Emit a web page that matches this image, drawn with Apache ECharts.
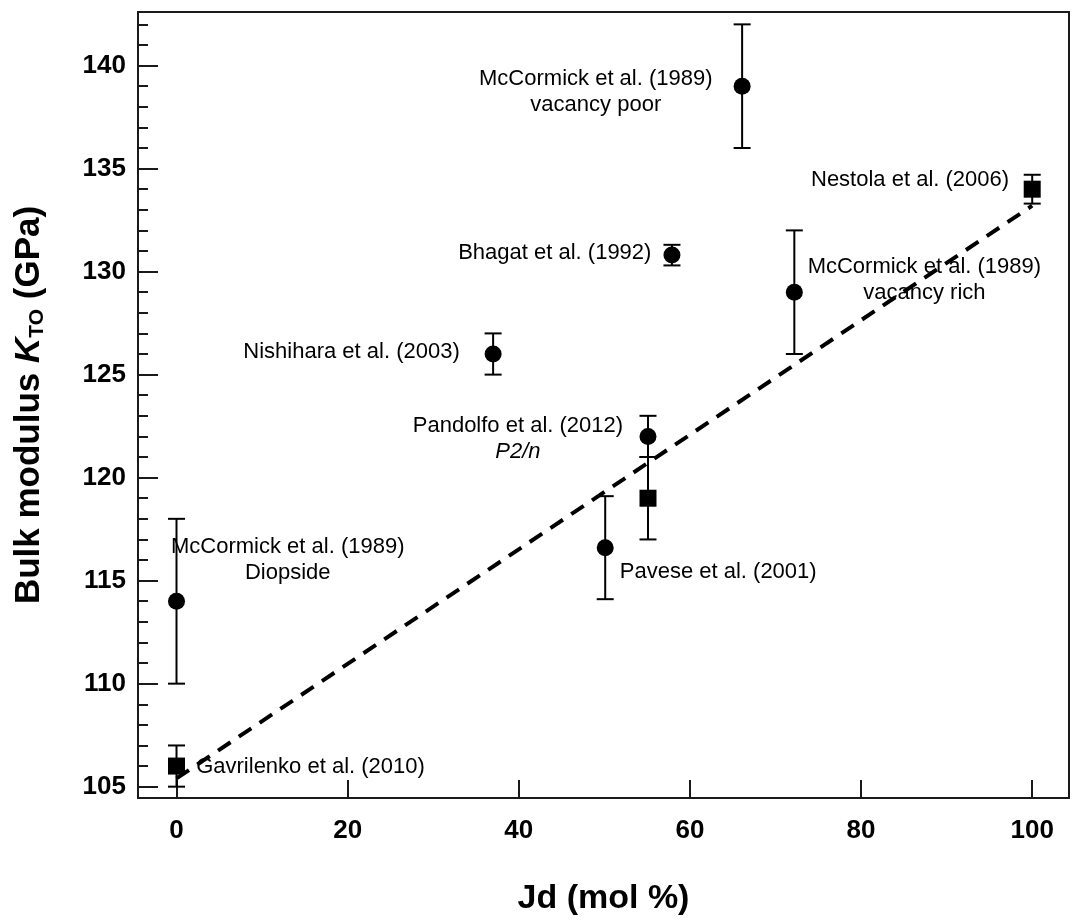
<!DOCTYPE html>
<html>
<head>
<meta charset="utf-8">
<title>Bulk modulus vs Jd</title>
<script src="https://cdn.jsdelivr.net/npm/echarts@6/dist/echarts.min.js"></script>
<style>
html, body { margin: 0; padding: 0; background: #fff; }
#main { width: 1072px; height: 922px; }
</style>
</head>
<body>
<div id="main"></div>
<script>
// filled circles: x, K, lower / upper error
var circleX = [0, 37, 50.1, 55.1, 57.9, 66.1, 72.2];
var circleY = [114, 126, 116.6, 122, 130.8, 139, 129];
var circleLo = [110, 125, 114.1, 121, 130.3, 136, 126];
var circleHi = [118, 127, 119.1, 123, 131.3, 142, 132];

// filled squares
var squareX = [0, 55.1, 100];
var squareY = [106, 119, 134];
var squareLo = [105, 117, 133.3];
var squareHi = [107, 121, 134.7];

// dashed fit line
var fitX = [0, 100];
var fitY = [105.4, 133.2];

// ticks
var xTicks = [0, 20, 40, 60, 80, 100];
var yTicks = [105, 110, 115, 120, 125, 130, 135, 140];
var yMinorTicks = [106, 107, 108, 109, 111, 112, 113, 114, 116, 117, 118, 119,
    121, 122, 123, 124, 126, 127, 128, 129, 131, 132, 133, 134, 136, 137, 138, 139, 141, 142];

// annotations (anchor in data units)
var noteText = [
    'McCormick et al. (1989)\nvacancy poor',
    'Nestola et al. (2006)',
    'Bhagat et al. (1992)',
    'McCormick et al. (1989)\nvacancy rich',
    'Nishihara et al. (2003)',
    'Pandolfo et al. (2012)\n{i|P2/n}',
    'Pavese et al. (2001)',
    'McCormick et al. (1989)\nDiopside',
    'Gavrilenko et al. (2010)'
];
var noteX = [49.0, 97.3, 55.5, 87.4, 33.1, 39.9, 51.8, 13.0, 2.3];
var noteY = [138.7, 134.45, 130.9, 129.6, 126.1, 121.9, 115.4, 116.0, 105.97];
var noteAlign = ['center', 'right', 'right', 'center', 'right', 'center', 'left', 'center', 'left'];

var FONT = '"Liberation Sans", Arial, Helvetica, sans-serif';
var INK = '#000';

function pairs(xs, ys) {
    return xs.map(function (x, i) { return [x, ys[i]]; });
}

var bars = [];
circleX.forEach(function (x, i) { bars.push([x, circleY[i], circleLo[i], circleHi[i]]); });
squareX.forEach(function (x, i) { bars.push([x, squareY[i], squareLo[i], squareHi[i]]); });

var notes = noteX.map(function (x, i) { return [x, noteY[i], i]; });

function renderBar(params, api) {
    var x = api.value(0);
    var top = api.coord([x, api.value(3)]);
    var bot = api.coord([x, api.value(2)]);
    var w = 8.5;
    var st = { stroke: INK, lineWidth: 2 };
    return {
        type: 'group',
        children: [
            { type: 'line', shape: { x1: top[0], y1: top[1], x2: bot[0], y2: bot[1] }, style: st },
            { type: 'line', shape: { x1: top[0] - w, y1: top[1], x2: top[0] + w, y2: top[1] }, style: st },
            { type: 'line', shape: { x1: bot[0] - w, y1: bot[1], x2: bot[0] + w, y2: bot[1] }, style: st }
        ]
    };
}

function renderNote(params, api) {
    var i = api.value(2);
    var p = api.coord([api.value(0), api.value(1)]);
    return {
        type: 'text',
        x: p[0],
        y: p[1],
        style: {
            text: noteText[i],
            align: noteAlign[i],
            verticalAlign: 'middle',
            fontSize: 22,
            fontFamily: FONT,
            lineHeight: 26,
            fill: INK,
            rich: {
                i: { fontSize: 22, fontFamily: FONT, fontStyle: 'italic', lineHeight: 26, fill: INK }
            }
        }
    };
}

var chart = echarts.init(document.getElementById('main'));

var option = {
    animation: false,
    backgroundColor: '#fff',
    grid: {
        left: 138,
        right: 3,
        top: 12,
        bottom: 124,
        show: true,
        borderColor: '#1a1a1a',
        borderWidth: 2,
        outerBoundsMode: 'none'
    },
    xAxis: {
        type: 'value',
        min: -4.5,
        max: 104.3,
        axisLine: { show: false, onZero: false },
        axisTick: { show: true, inside: true, length: 18, customValues: xTicks, lineStyle: { color: '#1a1a1a', width: 2 } },
        axisLabel: { customValues: xTicks, margin: 20, fontSize: 26, fontWeight: 'bold', color: INK, fontFamily: FONT },
        splitLine: { show: false },
        name: 'Jd (mol %)',
        nameLocation: 'middle',
        nameGap: 84,
        nameTextStyle: { fontSize: 34, fontWeight: 'bold', color: INK, fontFamily: FONT }
    },
    yAxis: [{
        type: 'value',
        min: 104.45,
        max: 142.6,
        position: 'left',
        axisLine: { show: false, onZero: false },
        axisTick: { show: true, inside: true, length: 20, customValues: yTicks, lineStyle: { color: '#1a1a1a', width: 2 } },
        axisLabel: { customValues: yTicks, margin: 12, fontSize: 26, fontWeight: 'bold', color: INK, fontFamily: FONT },
        splitLine: { show: false },
        name: '{b|Bulk modulus }{k|K}{s|TO}{b| (GPa)}',
        nameLocation: 'middle',
        nameGap: 90,
        nameTextStyle: {
            color: INK,
            rich: {
                b: { fontSize: 35, fontWeight: 'bold', fontFamily: FONT, lineHeight: 37, verticalAlign: 'middle', color: INK },
                k: { fontSize: 35, fontWeight: 'bold', fontStyle: 'italic', fontFamily: FONT, lineHeight: 37, verticalAlign: 'middle', color: INK },
                s: { fontSize: 21, fontWeight: 'bold', fontFamily: FONT, lineHeight: 21, verticalAlign: 'bottom', color: INK }
            }
        }
    }, {
        type: 'value',
        min: 104.45,
        max: 142.6,
        position: 'left',
        axisLine: { show: false, onZero: false },
        axisTick: { show: true, inside: true, length: 10, customValues: yMinorTicks, lineStyle: { color: '#1a1a1a', width: 2 } },
        axisLabel: { show: false },
        splitLine: { show: false }
    }],
    series: [
        {
            type: 'custom',
            renderItem: renderBar,
            data: bars,
            silent: true,
            z: 2
        },
        {
            type: 'scatter',
            data: pairs(circleX, circleY),
            symbol: 'circle',
            symbolSize: 17,
            itemStyle: { color: INK, opacity: 1 },
            silent: true,
            z: 3
        },
        {
            type: 'scatter',
            data: pairs(squareX, squareY),
            symbol: 'rect',
            symbolSize: 17,
            itemStyle: { color: INK, opacity: 1 },
            silent: true,
            z: 3
        },
        {
            type: 'line',
            data: pairs(fitX, fitY),
            symbol: 'none',
            lineStyle: { color: INK, width: 4, type: [15, 10] },
            silent: true,
            z: 4
        },
        {
            type: 'custom',
            renderItem: renderNote,
            data: notes,
            silent: true,
            z: 5
        }
    ]
};

chart.setOption(option);
</script>
</body>
</html>
